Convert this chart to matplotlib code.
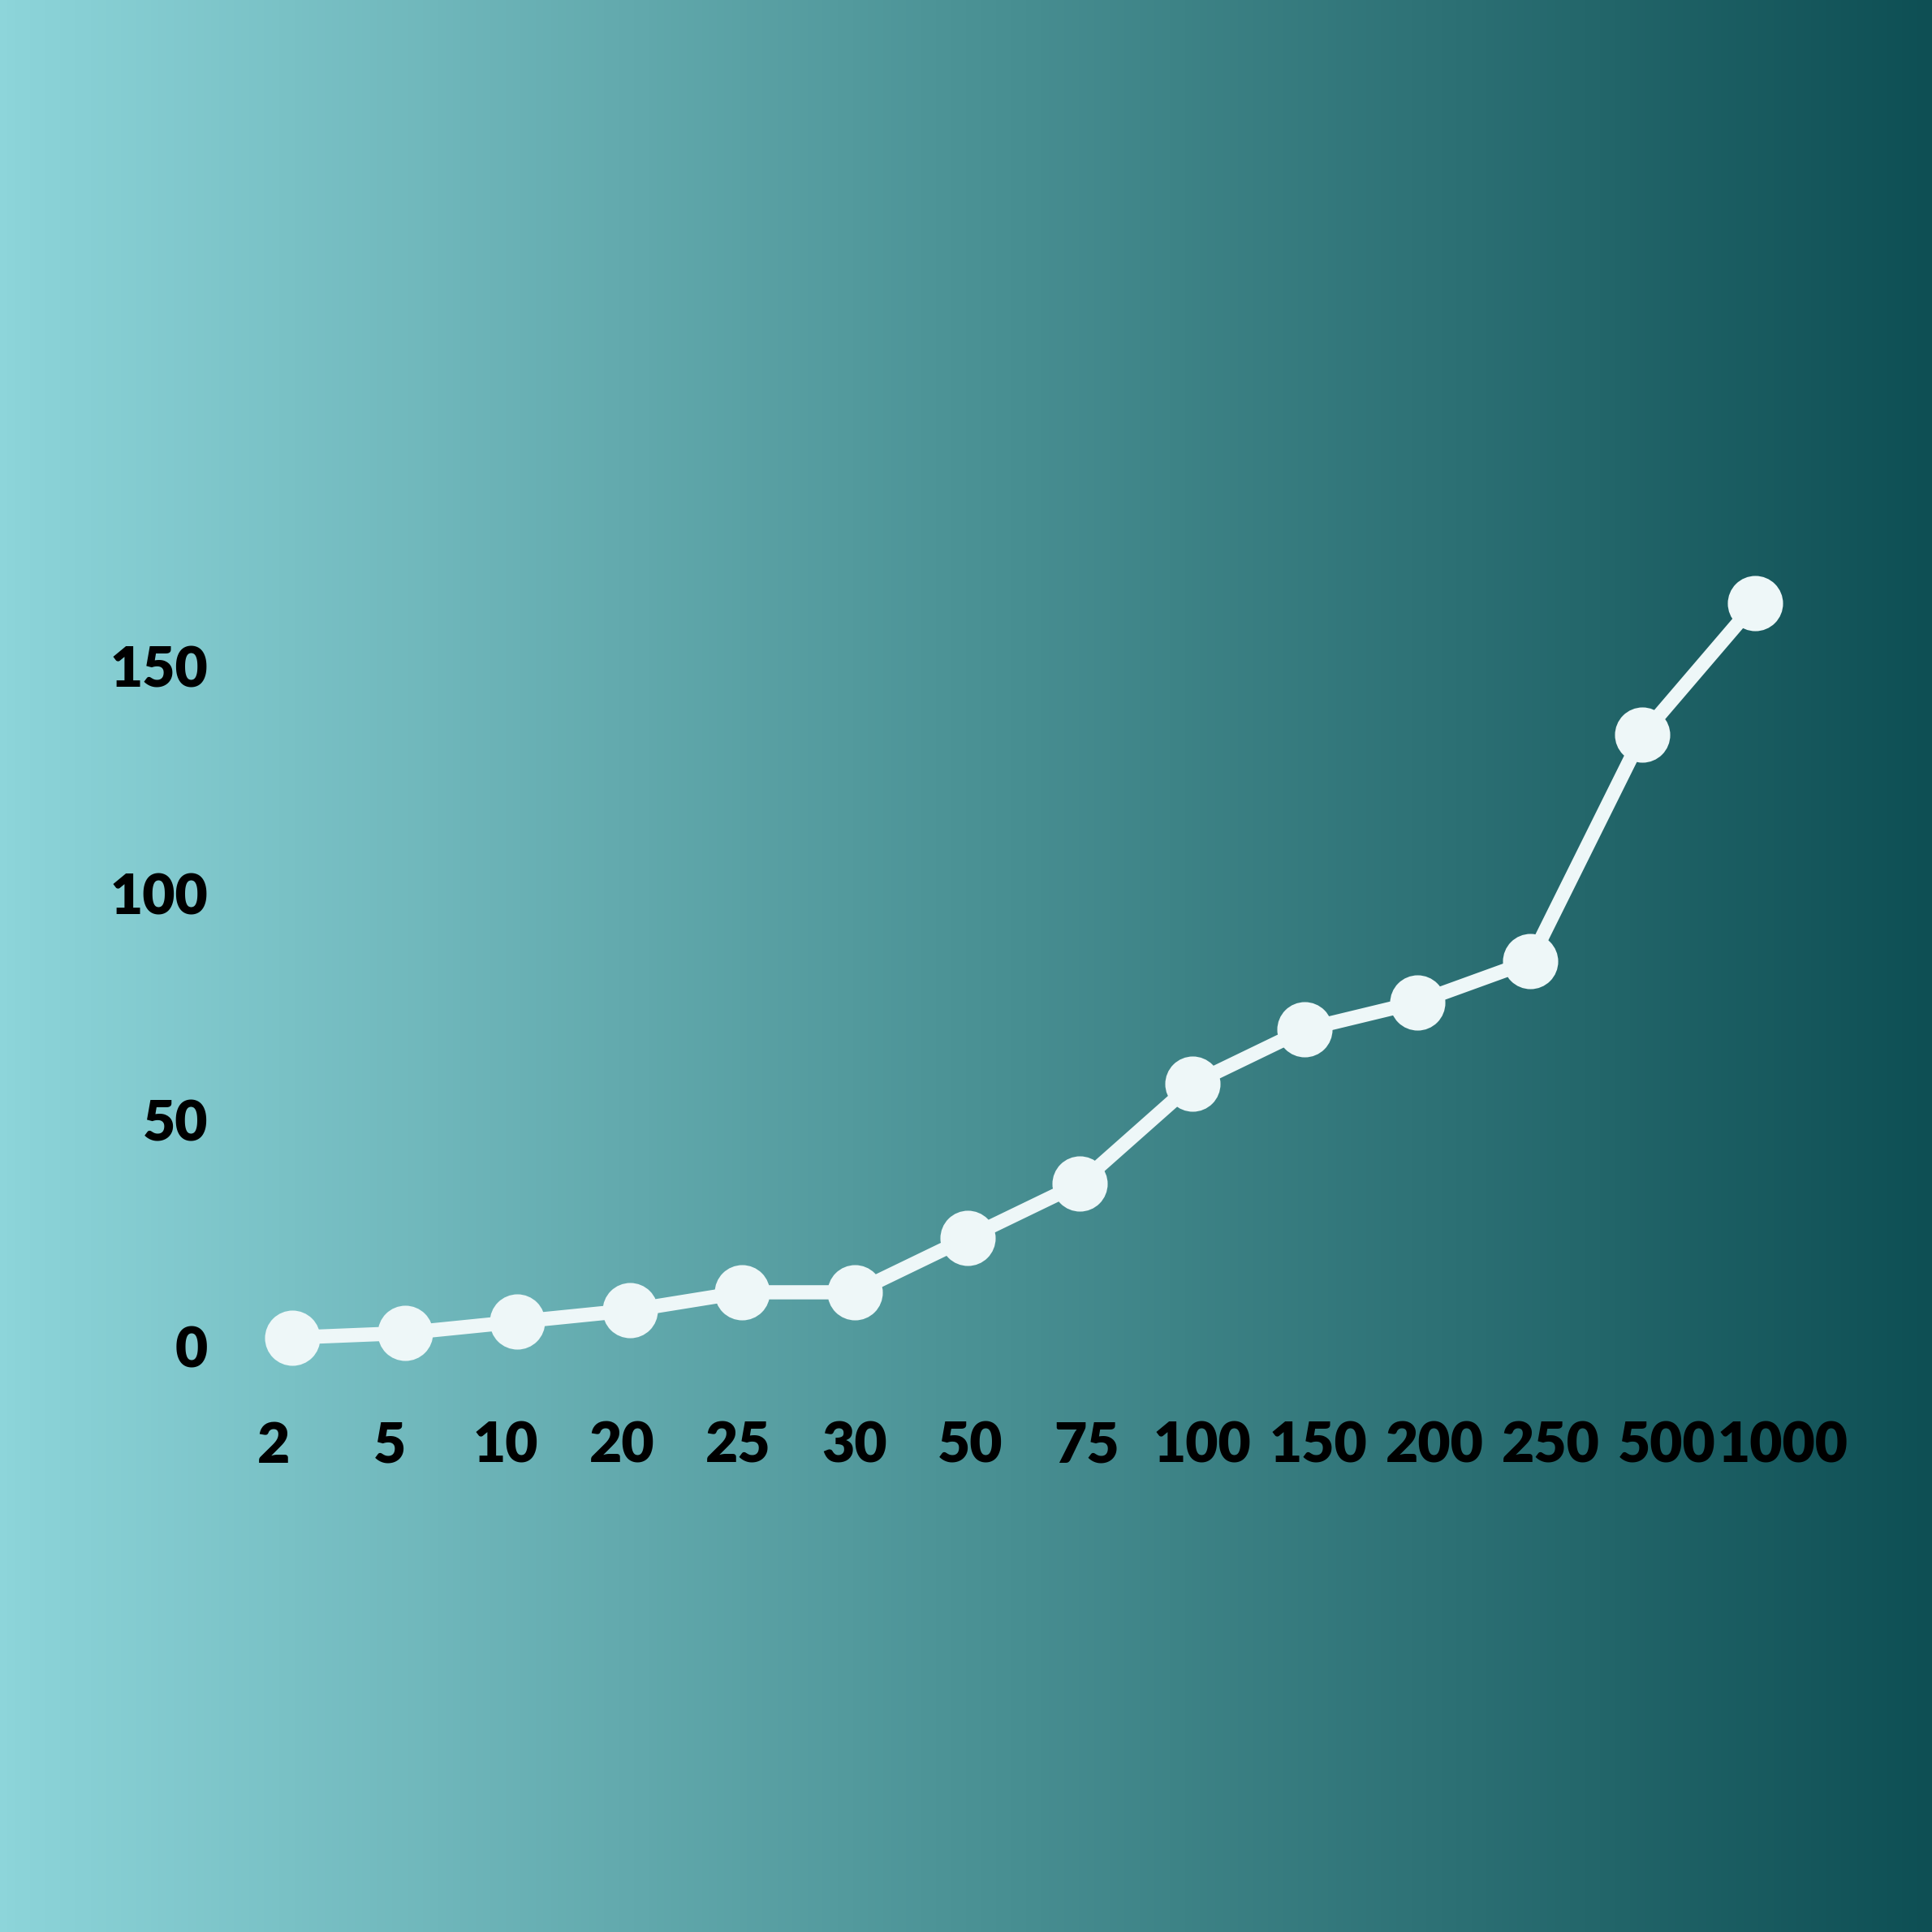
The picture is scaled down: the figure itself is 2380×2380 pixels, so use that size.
import numpy as np
import matplotlib
matplotlib.use("Agg")
import matplotlib.pyplot as plt
from matplotlib.colors import LinearSegmentedColormap

# Data
categories = ["2", "5", "10", "20", "25", "30", "50", "75", "100", "150", "200", "250", "500", "1000"]
values = [2, 3, 5.5, 8, 12, 12, 24, 36, 58, 70, 76, 85, 135, 164]
y_ticks = [0, 50, 100, 150]

fig = plt.figure(figsize=(11.9, 11.9), dpi=200)

# Background horizontal gradient
bg = fig.add_axes([0, 0, 1, 1], zorder=0)
cmap = LinearSegmentedColormap.from_list("bg", ["#8DD5DA", "#4B9295", "#0E4F54"])
grad = np.linspace(0, 1, 512).reshape(1, -1)
bg.imshow(grad, aspect="auto", cmap=cmap, extent=[0, 1, 0, 1])
bg.set_axis_off()

ax = fig.add_axes([0.1163, 0.2795, 0.827, 0.434], zorder=1)
ax.patch.set_alpha(0)
x = np.arange(len(categories))
ax.plot(x, values, color="#EEF7F8", linewidth=6.3, marker="o", markersize=23.5,
        markerfacecolor="#EEF7F8", markeredgecolor="#EEF7F8", solid_capstyle="round")
ax.set_xlim(-0.6, 13.6)
ax.set_ylim(-10, 175)
# tick labels are spread slightly wider than the points in the reference
ax.set_xticks(-0.164 + 1.0318 * x)
ax.set_xticklabels(categories)
ax.set_yticks(y_ticks)
ax.set_yticklabels([str(t) for t in y_ticks])
for s in ax.spines.values():
    s.set_visible(False)
ax.tick_params(axis="both", length=0)
ax.tick_params(axis="y", pad=7.5)
ax.tick_params(axis="x", pad=13)
for lab in ax.get_xticklabels() + ax.get_yticklabels():
    lab.set_fontfamily("Lato")
    lab.set_fontweight("heavy")
    lab.set_fontsize(25)
    lab.set_color("black")

fig.savefig("out.png", dpi=200)
